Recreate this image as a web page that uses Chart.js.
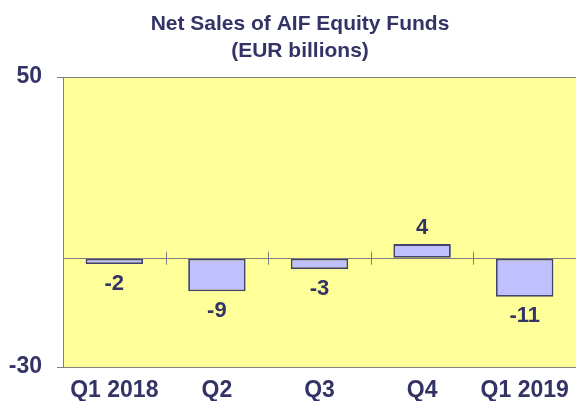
<!DOCTYPE html>
<html>
<head>
<meta charset="utf-8">
<script src="https://cdn.jsdelivr.net/npm/chart.js@4"></script>
<style>
html,body{margin:0;padding:0;background:#fff;}
#wrap{width:576px;height:403px;position:relative;}
</style>
</head>
<body>
<div id="wrap"><canvas id="c" width="576" height="403"></canvas></div>
<script>
const categories = ["Q1 2018", "Q2", "Q3", "Q4", "Q1 2019"];
const netSales = [-1.6, -9.1, -3.0, 3.9, -10.6];
const yTickValues = [-30, 0, 50];
const titleLines = ["Net Sales of AIF Equity Funds", "(EUR billions)"];

const TEXT = "#333366";
const FONT = "'Liberation Sans', Arial, sans-serif";
const LABEL_SIZE = 22;

const bgPlugin = {
  id: "bg",
  beforeDraw(chart) {
    const {ctx, chartArea: a} = chart;
    ctx.save();
    ctx.fillStyle = "#ffff99";
    ctx.fillRect(a.left, a.top, a.right - a.left, a.bottom - a.top);
    ctx.restore();
  }
};

const overlayPlugin = {
  id: "overlay",
  afterDatasetsDraw(chart) {
    const {ctx} = chart;
    const x = chart.scales.x, y = chart.scales.y;
    const y0 = y.getPixelForValue(0);
    ctx.save();
    ctx.strokeStyle = "#808080";
    ctx.lineWidth = 1;
    for (let i = 0; i < categories.length - 1; i++) {
      const bx = Math.round((x.getPixelForTick(i) + x.getPixelForTick(i + 1)) / 2) + 0.5;
      ctx.beginPath();
      ctx.moveTo(bx, y0 - 6.5);
      ctx.lineTo(bx, y0 + 6.5);
      ctx.stroke();
    }
    ctx.fillStyle = TEXT;
    ctx.font = "bold " + LABEL_SIZE + "px " + FONT;
    ctx.textAlign = "center";
    ctx.textBaseline = "alphabetic";
    const cap = LABEL_SIZE * 0.716;
    const meta = chart.getDatasetMeta(0);
    meta.data.forEach((bar, i) => {
      const v = netSales[i];
      const txt = String(Math.round(v));
      if (v >= 0) {
        ctx.fillText(txt, bar.x, bar.y - 10);
      } else {
        ctx.fillText(txt, bar.x, bar.y + 10 + cap);
      }
    });
    ctx.font = "bold 21px " + FONT;
    ctx.fillText(titleLines[0], 300, 30);
    ctx.fillText(titleLines[1], 300, 57);
    ctx.restore();
  }
};

new Chart(document.getElementById("c"), {
  type: "bar",
  data: {
    labels: categories,
    datasets: [{
      data: netSales,
      backgroundColor: "#c0c0ff",
      borderColor: "#44446a",
      borderWidth: 1.8,
      borderSkipped: false,
      barPercentage: 0.56,
      categoryPercentage: 1.0
    }]
  },
  options: {
    responsive: false,
    animation: false,
    devicePixelRatio: 1,
    layout: {padding: {top: 77, right: 0, left: 0, bottom: 2}},
    plugins: {legend: {display: false}, title: {display: false}, tooltip: {enabled: false}},
    scales: {
      x: {
        afterFit(scale) { scale.height = 34; scale.paddingLeft = 0; scale.paddingRight = 0; },
        grid: {display: false, tickLength: 0},
        border: {display: false},
        ticks: {color: TEXT, font: {family: FONT, size: 23, weight: "bold"}, padding: 10, maxRotation: 0, autoSkip: false}
      },
      y: {
        min: -30, max: 50,
        afterBuildTicks(scale) { scale.ticks = yTickValues.map(v => ({value: v})); },
        afterFit(scale) { scale.width = 63; },
        grid: {
          color: "#808080",
          lineWidth: 1,
          tickLength: 6,
          tickColor: (c) => (c.tick && c.tick.value === 0) ? "rgba(0,0,0,0)" : "#808080"
        },
        border: {color: "#808080", width: 1},
        ticks: {
          color: TEXT,
          padding: 15,
          font: {family: FONT, size: 23, weight: "bold"},
          callback: (v) => v === 0 ? "" : String(v)
        }
      }
    }
  },
  plugins: [bgPlugin, overlayPlugin]
});
</script>
</body>
</html>
